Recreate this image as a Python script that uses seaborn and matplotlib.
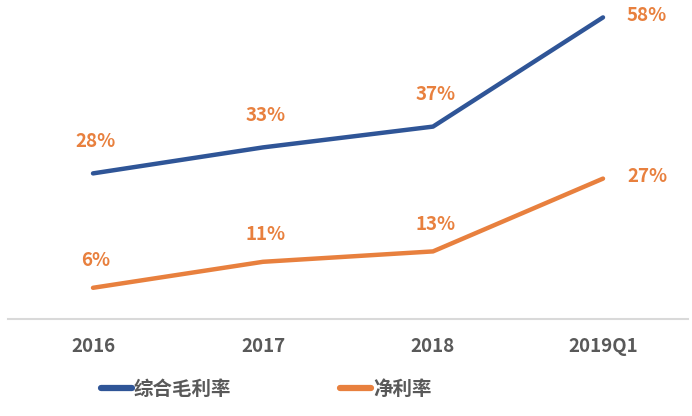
import matplotlib
matplotlib.use('Agg')
import matplotlib.pyplot as plt
import pandas as pd
import seaborn as sns

periods = ['2016', '2017', '2018', '2019Q1']
gross_margin = [28, 33, 37, 58]
net_margin = [6, 11, 13, 27]
series_names = ['综合毛利率', '净利率']

sns.set_theme(style='white')
plt.rcParams['font.family'] = ['Noto Sans CJK SC', 'DejaVu Sans']

df = pd.DataFrame({
    'period': periods * 2,
    'value': gross_margin + net_margin,
    'series': [series_names[0]] * len(periods) + [series_names[1]] * len(periods),
})

blue = '#2F5597'
orange = '#E8803E'
grey = '#595959'

fig = plt.figure(figsize=(6.92, 4.16), dpi=100)
ax = fig.add_axes([8 / 692, 1 - 319 / 416, 680 / 692, 312 / 416])
sns.lineplot(data=df, x='period', y='value', hue='series', sort=False,
             palette=[blue, orange], linewidth=3.2, ax=ax, legend=False)
for line in ax.lines:
    line.set_solid_capstyle('round')
    line.set_solid_joinstyle('round')

ax.set_xlim(-0.5, len(periods) - 0.5)
ax.set_ylim(0, 60)
ax.set_xlabel('')
ax.set_ylabel('')
ax.set_yticks([])
for s in ['top', 'left', 'right']:
    ax.spines[s].set_visible(False)
ax.spines['bottom'].set_color('#D9D9D9')
ax.spines['bottom'].set_linewidth(1.5)
ax.tick_params(axis='x', length=0, pad=13, labelsize=13.5, labelcolor=grey)
for t in ax.get_xticklabels():
    t.set_fontweight('bold')

# data labels, all in orange as in the source
for vals, dy in [(gross_margin, 32), (net_margin, 27)]:
    for i, v in enumerate(vals):
        if i == len(vals) - 1:
            off = (44, 2)
        else:
            off = (3, dy)
        ax.annotate(f'{v}%', (i, v), xytext=off, textcoords='offset pixels',
                    ha='center', va='center', fontsize=13.5, fontweight='bold',
                    color=orange, annotation_clip=False)

handles = [plt.Line2D([], [], color=blue, linewidth=4.5, solid_capstyle='round'),
           plt.Line2D([], [], color=orange, linewidth=4.5, solid_capstyle='round')]
leg = fig.legend(handles, series_names, loc='center', ncol=2,
                 bbox_to_anchor=(266 / 692, 1 - 389 / 416), frameon=False,
                 handlelength=1.6, handletextpad=0.1, columnspacing=5.6,
                 prop={'size': 14, 'weight': 'bold'})
for t in leg.get_texts():
    t.set_color(grey)

fig.savefig('out.png', dpi=100)
